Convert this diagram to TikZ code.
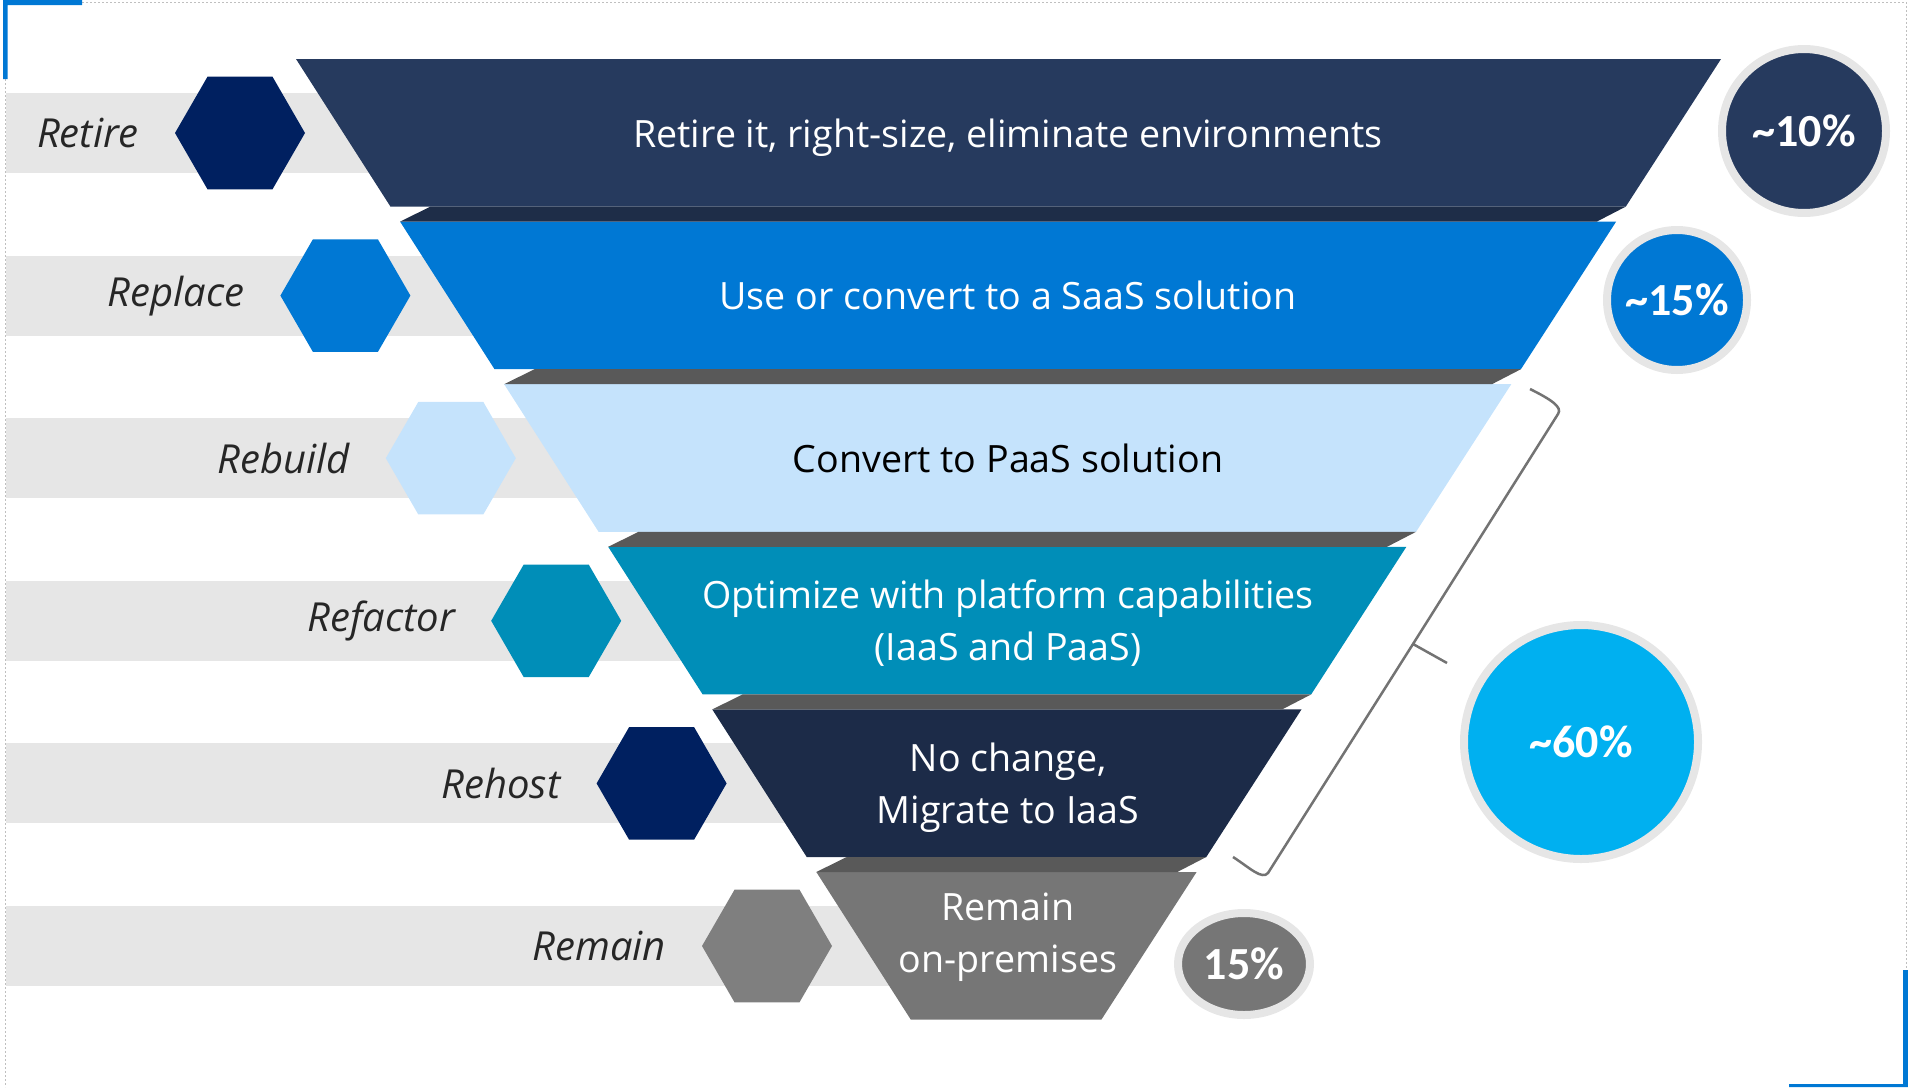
\documentclass[tikz,border=0pt]{standalone}
\usepackage{fontspec}
\setmainfont{Open Sans}
\newfontfamily\pctfont{Carlito}
\usetikzlibrary{shapes.geometric}
\definecolor{retirenavy}{HTML}{263A5E}
\definecolor{bandnavy}{HTML}{1E2D48}
\definecolor{msblue}{HTML}{0078D4}
\definecolor{paleblue}{HTML}{C5E3FC}
\definecolor{refactorteal}{HTML}{008EB8}
\definecolor{rehostnavy}{HTML}{1C2B48}
\definecolor{remaingray}{HTML}{767676}
\definecolor{bandgray}{HTML}{595959}
\definecolor{hexnavy}{HTML}{002060}
\definecolor{hexgray}{HTML}{7F7F7F}
\definecolor{bargray}{HTML}{E6E6E6}
\definecolor{skyblue}{HTML}{00B0F0}
\definecolor{labelgray}{HTML}{262626}
\definecolor{bracegray}{HTML}{737373}
\definecolor{framegray}{HTML}{BFBFBF}
\newcommand\xL[1]{296+0.64*(#1-59)}
\newcommand\xR[1]{1721-0.645*(#1-59)}
\newcommand\Layer[5][0]{
\pgfmathsetmacro\ytop{59+162.6*(#2-1)}
\pgfmathsetmacro\ybot{\ytop+147.6}
\fill[#3]
  ({\xL{\ytop}},\ytop) -- ({\xR{\ytop}},\ytop) -- ({\xR{\ybot}},\ybot) -- ({\xL{\ybot}},\ybot) -- cycle;
\node[layertext,text=#4] (layer#2) at (1008,{\ytop+73.8+#1}) {#5};
}
\newcommand\Band[2]{
\pgfmathsetmacro\ybot{59+162.6*(#1-1)+147.6}
\pgfmathsetmacro\ynext{\ybot+15}
\fill[#2]
  ({\xL{\ybot}+40},\ybot) -- ({\xR{\ybot}},\ybot) -- ({\xR{\ybot}-29},\ynext) -- ({\xL{\ynext}},\ynext) -- cycle;
}

\begin{document}
\begin{tikzpicture}[x=1pt,y=-1pt,
  hexnode/.style={regular polygon,regular polygon sides=6,minimum size=130pt,inner sep=0pt,outer sep=0pt},
  rowlabel/.style={inner sep=0pt,text=labelgray,font=\fontsize{40}{48}\selectfont\itshape},
  layertext/.style={align=center,text depth=0pt,font=\fontsize{37.6}{52}\selectfont},
  pctnode/.style={circle,draw=bargray,line width=8pt,inner sep=0pt,text=white,font=\fontsize{46}{52}\selectfont\pctfont\bfseries}]
\useasboundingbox (0,0) rectangle (1908,1087);
% frame
\draw[framegray,line width=1pt,dash pattern=on 2pt off 2pt]
  (82,2) -- (1906,2) -- (1906,970)
  (5,79) -- (5,1087);
\fill[msblue] (3,0) rectangle (82,5) (3,0) rectangle (7.5,79);
\fill[msblue] (1903,970) rectangle (1908,1087) (1789,1084) rectangle (1908,1087);
% rows
\foreach \i/\lab/\hexcol in {1/Retire/hexnavy,2/Replace/msblue,3/Rebuild/paleblue,4/Refactor/refactorteal,5/Rehost/hexnavy,6/Remain/hexgray}{
  \pgfmathsetmacro\yr{133+162.6*(\i-1)}
  \pgfmathsetmacro\xh{240+105.4*(\i-1)}
  \fill[bargray] (6,\yr-40) rectangle (\xh+300,\yr+40);
  \node[hexnode,fill=\hexcol] (hex\i) at (\xh,\yr) {};
  \node[rowlabel,anchor=east] (label\i) at (\xh-101,\yr) {\lab};
}
% funnel
\Layer{1}{retirenavy}{white}{Retire it, right-size, eliminate environments}
\Layer{2}{msblue}{white}{Use or convert to a SaaS solution}
\Layer{3}{paleblue}{black}{Convert to PaaS solution}
\Layer{4}{refactorteal}{white}{Optimize with platform capabilities\\(IaaS and PaaS)}
\Layer{5}{rehostnavy}{white}{No change,\\Migrate to IaaS}
\Layer[-13]{6}{remaingray}{white}{Remain\\on-premises}
\Band{1}{bandnavy}
\foreach \k in {2,...,5}{\Band{\k}{bandgray}}
% shares
\node[pctnode,fill=retirenavy,minimum size=164pt] (pct10) at (1804,131) {\textasciitilde10\%};
\node[pctnode,fill=msblue,minimum size=140pt] (pct15) at (1677,300) {\textasciitilde15\%};
\node[pctnode,fill=skyblue,minimum size=234pt] (pct60) at (1581,742) {\textasciitilde60\%};
\node[pctnode,ellipse,fill=remaingray,minimum width=132pt,minimum height=102pt] (pctremain) at (1244,964) {15\%};
\draw[bracegray,line width=2.5pt,line join=round]
  (1530,389) .. controls (1550,399) and (1563,407) .. (1558,414) -- (1413,644) -- (1268,873)
  .. controls (1262,880) and (1250,868) .. (1233,857)
  (1413,644) -- (1447,663);
\end{tikzpicture}
\end{document}
